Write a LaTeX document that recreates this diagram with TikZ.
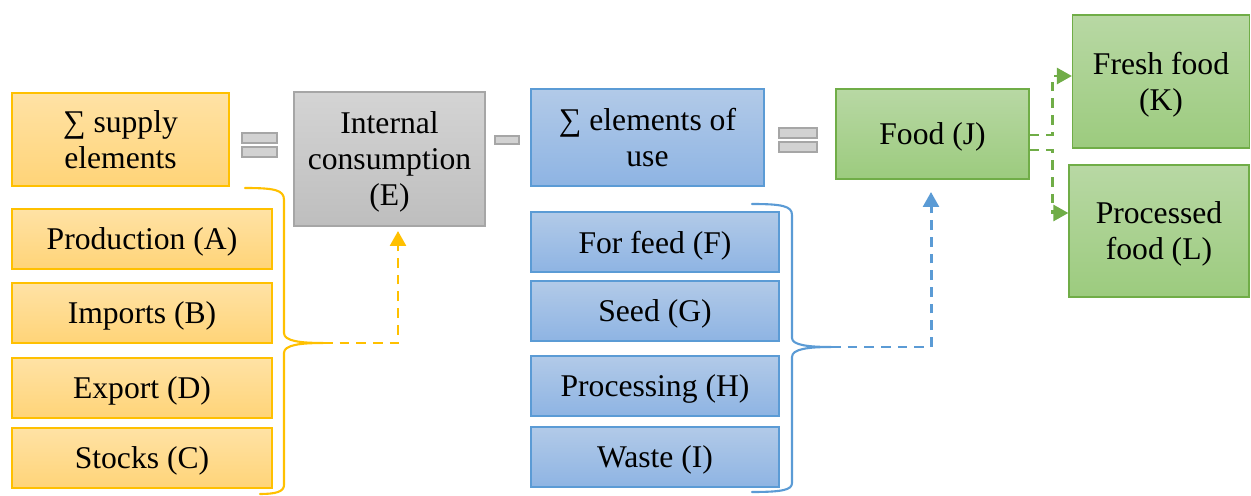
\documentclass[tikz,border=0pt]{standalone}
\usepackage{fontspec}
\setmainfont{Liberation Serif}
\usetikzlibrary{arrows.meta}
\definecolor{supplyline}{RGB}{255,192,0}
\definecolor{supplytop}{RGB}{255,226,165}
\definecolor{supplybot}{RGB}{255,212,120}
\definecolor{greyline}{RGB}{166,166,166}
\definecolor{greytop}{RGB}{212,212,212}
\definecolor{greybot}{RGB}{190,190,190}
\definecolor{useline}{RGB}{91,155,213}
\definecolor{usetop}{RGB}{178,202,232}
\definecolor{usebot}{RGB}{142,180,227}
\definecolor{foodline}{RGB}{112,173,71}
\definecolor{foodtop}{RGB}{184,216,164}
\definecolor{foodbot}{RGB}{156,203,126}
\tikzset{
  box/.style={
    rectangle,
    inner sep=0pt,
    line width=0.7pt,
    align=center,
    text depth=0pt,
    font=\fontsize{18}{20.5}\selectfont
  },
  supply-box/.style={box, draw=supplyline, top color=supplytop, bottom color=supplybot},
  grey-box/.style={box, draw=greyline, top color=greytop, bottom color=greybot},
  use-box/.style={box, draw=useline, top color=usetop, bottom color=usebot},
  food-box/.style={box, draw=foodline, top color=foodtop, bottom color=foodbot},
  sign/.style={draw=greyline, fill=greytop!90!greybot, line width=0.6pt},
  brace/.style={line width=1.2pt, line cap=round, line join=round},
  flow/.style={line width=1.7pt, dash pattern=on 5.5pt off 4pt,
    -{Triangle[length=8.5pt, width=9pt]}}
}

\begin{document}
\begin{tikzpicture}[x=0.02cm, y=-0.02cm]
  \useasboundingbox (0,0) rectangle (1251,496);
  % supply side
  \node[supply-box, minimum width=4.34cm, minimum height=1.86cm] (sumS) at (120.5,139.5) {∑ supply\\elements};
  \node[supply-box, minimum width=5.2cm, minimum height=1.2cm] (prodA) at (142,239) {Production (A)};
  \node[supply-box, minimum width=5.2cm, minimum height=1.2cm] (impB) at (142,313) {Imports (B)};
  \node[supply-box, minimum width=5.2cm, minimum height=1.2cm] (expD) at (142,388) {Export (D)};
  \node[supply-box, minimum width=5.2cm, minimum height=1.2cm] (stkC) at (142,458) {Stocks (C)};
  % equals
  \draw[sign] (242,133) rectangle (277,143);
  \draw[sign] (242,147) rectangle (277,157);
  \node[grey-box, minimum width=3.82cm, minimum height=2.68cm] (intE) at (389.5,159) {Internal\\consumption\\(E)};
  % minus
  \draw[sign] (495,136) rectangle (519,144);
  % use side
  \node[use-box, minimum width=4.66cm, minimum height=1.94cm] (sumU) at (647.5,137.5) {∑ elements of\\use};
  \node[use-box, minimum width=4.96cm, minimum height=1.2cm] (feedF) at (655,242) {For feed (F)};
  \node[use-box, minimum width=4.96cm, minimum height=1.2cm] (seedG) at (655,311) {Seed (G)};
  \node[use-box, minimum width=4.96cm, minimum height=1.2cm] (procH) at (655,386) {Processing (H)};
  \node[use-box, minimum width=4.96cm, minimum height=1.2cm] (wasteI) at (655,457) {Waste (I)};
  % equals
  \draw[sign] (779,128) rectangle (817,138);
  \draw[sign] (779,142) rectangle (817,152);
  \node[food-box, minimum width=3.86cm, minimum height=1.8cm] (foodJ) at (932.5,134) {Food (J)};
  \node[food-box, minimum width=3.54cm, minimum height=2.66cm] (freshK) at (1161,81.5) {Fresh food\\(K)};
  \node[food-box, minimum width=3.6cm, minimum height=2.64cm] (procL) at (1159,231) {Processed\\food (L)};

  % braces
  \coordinate (supTip) at (323,343);
  \draw[brace, supplyline] (245,188) .. controls (275,188) and (284,190) .. (284,200)
    -- (284,333) .. controls (284,341) and (300,343) .. (supTip)
    .. controls (300,343) and (284,345) .. (284,353)
    -- (284,485) .. controls (284,492) and (275,494) .. (260,494);
  \coordinate (useTip) at (831,347);
  \draw[brace, useline] (752,204) .. controls (782,204) and (792,206) .. (792,215)
    -- (792,338) .. controls (792,345) and (808,347) .. (useTip)
    .. controls (808,347) and (792,349) .. (792,357)
    -- (792,483) .. controls (792,490) and (782,492) .. (752,492);

  % connectors
  \coordinate (eIn) at (398,231);
  \coordinate (jIn) at (931,192);
  \draw[flow, supplyline] (supTip) -| (eIn);
  \draw[flow, useline] (useTip) -| (jIn);
  \draw[flow, foodline] ([yshift=-0.02cm]foodJ.east) -- ++(23,0) |- (freshK.west |- 0,76);
  \draw[flow, foodline] ([yshift=-0.32cm]foodJ.east) -- ++(23,0) |- (procL.west |- 0,213);
\end{tikzpicture}
\end{document}
